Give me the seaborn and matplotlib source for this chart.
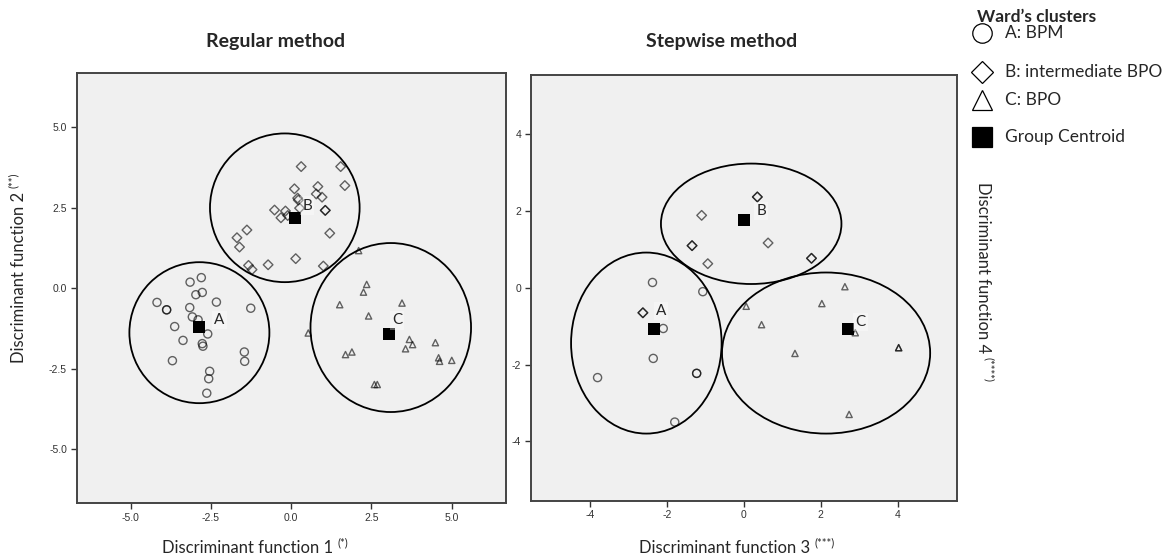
import pandas as pd
import matplotlib.pyplot as plt
import seaborn as sns
from matplotlib.patches import Ellipse
from matplotlib.lines import Line2D

# ---- Regular method (function 1 vs function 2)
reg_a_x = [-2.80, -3.15, -2.97, -2.77, -4.18, -3.88, -3.88, -3.16, -2.33, -1.26, -3.08, -2.90,
           -3.63, -2.60, -3.37, -2.77, -2.75, -3.70, -1.46, -1.45, -2.54, -2.57, -2.63]
reg_a_y = [0.33, 0.19, -0.20, -0.13, -0.44, -0.67, -0.67, -0.60, -0.43, -0.62, -0.89, -0.98,
           -1.19, -1.42, -1.62, -1.72, -1.80, -2.25, -1.98, -2.27, -2.58, -2.81, -3.26]
reg_b_x = [0.31, 1.54, 1.67, 0.10, 0.83, 0.78, 0.96, 0.20, 0.22, 1.06, 1.06, 0.26, -0.52,
           -0.18, -0.32, -0.11, -1.38, -1.69, -1.61, 1.20, -1.33, -1.22, -0.72, 0.14, 1.00]
reg_b_y = [3.78, 3.78, 3.19, 3.09, 3.16, 2.93, 2.83, 2.80, 2.74, 2.42, 2.42, 2.49, 2.43,
           2.40, 2.19, 2.26, 1.81, 1.57, 1.28, 1.71, 0.71, 0.58, 0.73, 0.92, 0.69]
reg_c_x = [2.10, 2.35, 2.25, 1.51, 3.45, 2.41, 0.53, 3.68, 3.78, 3.56, 4.49, 1.69, 1.89,
           4.59, 4.62, 5.00, 2.59, 2.68]
reg_c_y = [1.17, 0.12, -0.12, -0.51, -0.46, -0.86, -1.39, -1.59, -1.75, -1.88, -1.69, -2.06,
           -1.98, -2.16, -2.27, -2.24, -2.99, -2.99]
reg_cent_x = [-2.87, 0.12, 3.05]
reg_cent_y = [-1.21, 2.19, -1.43]
# enclosing ellipses: centre x, centre y, width, height
reg_ell_x = [-2.86, -0.20, 3.10]
reg_ell_y = [-1.38, 2.50, -1.22]
reg_ell_w = [4.36, 4.66, 5.00]
reg_ell_h = [4.38, 4.62, 5.25]
reg_lab_x = [-2.24, 0.50, 3.30]
reg_lab_y = [-0.98, 2.57, -1.00]

# ---- Stepwise method (function 3 vs function 4)
stp_a_x = [-2.38, -1.07, -2.10, -2.36, -3.81, -1.23, -1.23, -1.80]
stp_a_y = [0.14, -0.10, -1.06, -1.84, -2.34, -2.23, -2.23, -3.50]
stp_b_x = [0.35, 0.35, -1.10, -1.35, -1.35, -0.94, 0.63, 1.76, 1.76, -2.63, -2.63]
stp_b_y = [2.37, 2.37, 1.89, 1.10, 1.10, 0.63, 1.17, 0.77, 0.77, -0.65, -0.65]
stp_c_x = [2.63, 2.03, 0.06, 0.46, 1.33, 2.90, 4.03, 4.03, 2.74]
stp_c_y = [0.03, -0.41, -0.48, -0.96, -1.71, -1.17, -1.56, -1.56, -3.30]
stp_cent_x = [-2.33, 0.00, 2.70]
stp_cent_y = [-1.08, 1.76, -1.07]
stp_ell_x = [-2.54, 0.19, 2.14]
stp_ell_y = [-1.44, 1.67, -1.70]
stp_ell_w = [3.92, 4.70, 5.42]
stp_ell_h = [4.72, 3.14, 4.20]
stp_lab_x = [-2.16, 0.45, 3.04]
stp_lab_y = [-0.61, 2.00, -0.89]

groups = ['A', 'B', 'C']
legend_labels = ['A: BPM', 'B: intermediate BPO', 'C: BPO', 'Group Centroid']

sns.set_style('white')
plt.rcParams['font.family'] = ['Lato', 'DejaVu Sans']
plt.rcParams['axes.unicode_minus'] = False

markers = {'A': 'o', 'B': 'D', 'C': '^'}
msize = {'A': 34, 'B': 24, 'C': 20}
edge = (0, 0, 0, 0.6)


def make_df(xs, ys):
    rows = []
    for g, gx, gy in zip(groups, xs, ys):
        rows += [{'x': a, 'y': b, 'cluster': g} for a, b in zip(gx, gy)]
    return pd.DataFrame(rows)


def draw_panel(ax, df, cx, cy, ex, ey, ew, eh, lx, ly, lim, ticks, fmt):
    ax.set_facecolor('#f0f0f0')
    for g in groups:
        sub = df[df['cluster'] == g]
        sns.scatterplot(data=sub, x='x', y='y', ax=ax, marker=markers[g], s=msize[g],
                        facecolor='none', edgecolor=edge, linewidth=1.0, zorder=3)
    for i in range(3):
        ax.add_patch(Ellipse((ex[i], ey[i]), ew[i], eh[i], fill=False,
                             edgecolor='black', linewidth=1.3, zorder=2))
    cent = pd.DataFrame({'x': cx, 'y': cy})
    sns.scatterplot(data=cent, x='x', y='y', ax=ax, marker='s', s=70,
                    color='black', edgecolor='black', linewidth=0, zorder=4)
    for i, g in enumerate(groups):
        ax.text(lx[i], ly[i], g, fontsize=11, ha='center', va='center', zorder=5,
                bbox=dict(facecolor='white', alpha=0.35, edgecolor='none', pad=1.5))
    ax.set_xlim(-lim, lim)
    ax.set_ylim(-lim, lim)
    ax.set_xticks(ticks)
    ax.set_yticks(ticks)
    ax.set_xticklabels([fmt % t for t in ticks], fontfamily='Liberation Sans')
    ax.set_yticklabels([fmt % t for t in ticks], fontfamily='Liberation Sans')
    ax.tick_params(axis='both', which='both', direction='out', length=4, width=1,
                   color='#333333', labelsize=7.5, labelcolor='#333333',
                   bottom=True, left=True, top=False, right=False, pad=3)
    for sp in ax.spines.values():
        sp.set_visible(True)
        sp.set_color('#444444')
        sp.set_linewidth(1.4)
    ax.set_xlabel('')
    ax.set_ylabel('')


fig = plt.figure(figsize=(11.75, 5.6), dpi=100)
W, H = 1175, 560
ax1 = fig.add_axes([0.0653, 0.1013, 0.3651, 0.7679])
ax2 = fig.add_axes([0.4517, 0.1059, 0.3628, 0.7602])

draw_panel(ax1, make_df([reg_a_x, reg_b_x, reg_c_x], [reg_a_y, reg_b_y, reg_c_y]),
           reg_cent_x, reg_cent_y, reg_ell_x, reg_ell_y, reg_ell_w, reg_ell_h,
           reg_lab_x, reg_lab_y, 6.68, [-5.0, -2.5, 0.0, 2.5, 5.0], '%.1f')
draw_panel(ax2, make_df([stp_a_x, stp_b_x, stp_c_x], [stp_a_y, stp_b_y, stp_c_y]),
           stp_cent_x, stp_cent_y, stp_ell_x, stp_ell_y, stp_ell_w, stp_ell_h,
           stp_lab_x, stp_lab_y, 5.55, [-4, -2, 0, 2, 4], '%d')

fig.text(276 / W, 1 - 42 / H, 'Regular method', fontsize=14, fontweight='bold',
         ha='center', va='center')
fig.text(722 / W, 1 - 42 / H, 'Stepwise method', fontsize=14, fontweight='bold',
         ha='center', va='center')


def sup(t, s, xy, ha, va, rot, off):
    ax1.annotate(s, xy=xy, xycoords=t, xytext=off, textcoords='offset points',
                 ha=ha, va=va, rotation=rot, fontsize=8, annotation_clip=False)


t1 = fig.text(162 / W, 1 - 548 / H, 'Discriminant function 1', fontsize=12,
              ha='left', va='center')
sup(t1, '(*)', (1, 1), 'left', 'top', 0, (3, 2))
t3 = fig.text(639 / W, 1 - 548 / H, 'Discriminant function 3', fontsize=12,
              ha='left', va='center')
sup(t3, '(***)', (1, 1), 'left', 'top', 0, (3, 2))
t2 = fig.text(19 / W, 1 - 363 / H, 'Discriminant function 2', fontsize=12,
              ha='center', va='bottom', rotation=90)
sup(t2, '(**)', (0, 1), 'left', 'bottom', 90, (-2, 3))
t4 = fig.text(983 / W, 1 - 182 / H, 'Discriminant function 4', fontsize=12,
              ha='center', va='top', rotation=270)
sup(t4, '(****)', (1, 0), 'right', 'top', 270, (2, -3))

# legend drawn by hand to keep the uneven row spacing of the original
fig.text(977 / W, 1 - 17 / H, 'Ward\u2019s clusters', fontsize=12.5, fontweight='bold',
         ha='left', va='center')
leg_y = [33, 72, 100, 137]
leg_marker = ['o', 'D', '^', 's']
leg_ms = [14, 11, 15, 15]
for yy, m, ms, lab in zip(leg_y, leg_marker, leg_ms, legend_labels):
    filled = m == 's'
    fig.add_artist(Line2D([982 / W], [1 - yy / H], transform=fig.transFigure,
                          linestyle='none', marker=m, markersize=ms,
                          markerfacecolor='black' if filled else 'none',
                          markeredgecolor='black', markeredgewidth=0.9))
    fig.text(1005 / W, 1 - yy / H, lab, fontsize=12.5, ha='left', va='center')

fig.savefig('out.png', dpi=100)
